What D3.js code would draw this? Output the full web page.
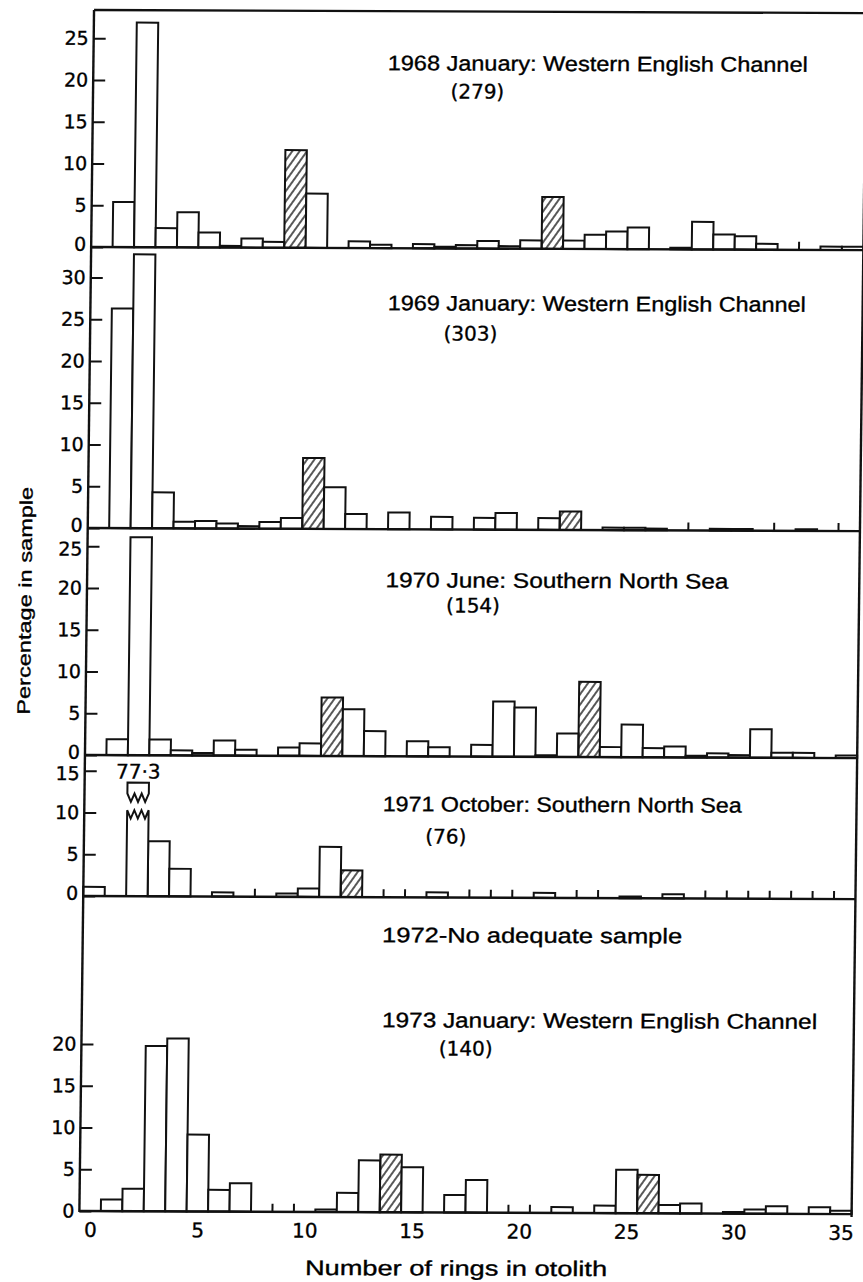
<!DOCTYPE html>
<html>
<head>
<meta charset="utf-8">
<script src="https://cdn.jsdelivr.net/npm/d3@7"></script>
<style>
  body { margin: 0; background: #fff; }
  text { font-family: "Liberation Sans", Arial, sans-serif; fill: #000; stroke: #000; stroke-width: 0.35px; }
</style>
</head>
<body>
<script>
// Number of rings in otolith: one bin per ring count
const rings = d3.range(0, 36);

// Percentage in sample for each ring count
const pct1968 = [0, 5.4, 26.9, 2.3, 4.2, 1.8, 0.2, 1.1, 0.7, 11.7, 6.5, 0, 0.8, 0.4, 0, 0.5, 0.2, 0.4, 0.9, 0.3,
                 1.0, 6.2, 1.0, 1.7, 2.1, 2.6, 0, 0.2, 3.3, 1.8, 1.6, 0.7, 0, 0, 0.4, 0.4];
const pct1969 = [0, 26.3, 32.8, 4.3, 0.8, 0.9, 0.6, 0.3, 0.8, 1.3, 8.5, 5.0, 1.8, 0, 2.0, 0, 1.5, 0, 1.4, 2.0,
                 0, 1.4, 2.2, 0, 0.3, 0.3, 0.2, 0, 0, 0.2, 0.2, 0, 0, 0.2, 0, 0];
const pct1970 = [0, 1.9, 26.1, 1.9, 0.6, 0.3, 1.8, 0.7, 0, 1.0, 1.5, 7.0, 5.6, 3.0, 0, 1.8, 1.1, 0, 1.4, 6.6,
                 5.9, 0.2, 2.8, 9.0, 1.2, 3.9, 1.1, 1.3, 0.2, 0.5, 0.3, 3.4, 0.6, 0.6, 0, 0.3];
const pct1971 = [1.1, 0, 77.3, 6.6, 3.3, 0, 0.5, 0, 0, 0.4, 1.0, 6.0, 3.2, 0, 0, 0, 0.6, 0, 0, 0,
                 0, 0.6, 0, 0, 0, 0.2, 0, 0.5, 0, 0, 0, 0, 0, 0, 0, 0];
const pct1973 = [0, 1.4, 2.7, 19.8, 20.7, 9.2, 2.6, 3.4, 0, 0, 0, 0.3, 2.3, 6.2, 6.9, 5.4, 0, 2.1, 3.9, 0,
                 0, 0, 0.7, 0, 0.9, 5.2, 4.6, 1.0, 1.2, 0, 0.2, 0.5, 0.9, 0, 0.8, 0.4];

// Hatched bars (the strong year classes)
const hatched1968 = [9, 21];
const hatched1969 = [10, 22];
const hatched1970 = [11, 23];
const hatched1971 = [12];
const hatched1973 = [14, 26];

// Texts
const sampleTitles = ["1968 January: Western English Channel", "1969 January: Western English Channel",
                      "1970 June: Southern North Sea", "1971 October: Southern North Sea",
                      "1973 January: Western English Channel"];
const sampleSizes = ["(279)", "(303)", "(154)", "(76)", "(140)"];
const noSampleText = "1972-No adequate sample";

// Tick labels
const yTicks1968 = [0, 5, 10, 15, 20, 25];
const yTicks1969 = [0, 5, 10, 15, 20, 25, 30];
const yTicks1970 = [0, 5, 10, 15, 20, 25];
const yTicks1971 = [0, 5, 10, 15];
const yTicks1973 = [0, 5, 10, 15, 20];
const xTicks = [0, 5, 10, 15, 20, 25, 30, 35];

// Build the panel table
const panels = [
    {values: pct1968, hatched: hatched1968, ticks: yTicks1968},
    {values: pct1969, hatched: hatched1969, ticks: yTicks1969},
    {values: pct1970, hatched: hatched1970, ticks: yTicks1970},
    {values: pct1971, hatched: hatched1971, ticks: yTicks1971},
    {values: pct1973, hatched: hatched1973, ticks: yTicks1973}
];

// ---- layout ----
const outerWidth = 863, outerHeight = 1282;
const left = 86.6, right = 858.8, frameTop = 10;
const baselines = [247, 528, 755, 896, 1211];
const pxPerPct = 8.35;
const tops = [frameTop, ...baselines.slice(0, 4)];
const numFont = "DejaVu Sans, Liberation Sans, sans-serif";

// title placement and sample size placement
const titleLayout = [
    {x: 381, y: 69, w: 420, nx: 444, ny: 97},
    {x: 384, y: 309, w: 418, nx: 440, ny: 339},
    {x: 385, y: 586, w: 343, nx: 446, ny: 611},
    {x: 385, y: 810, w: 359, nx: 428, ny: 842},
    {x: 387, y: 1026, w: 435, nx: 444, ny: 1054}
];

// the scan is slightly skewed
const shear = {b: 0.004, c: -0.0122, px: 86, py: 620};

const outerSvg = d3.select("body").append("svg")
    .attr("width", outerWidth)
    .attr("height", outerHeight)
    .style("background", "#fff");

// hatch pattern
outerSvg.append("defs").append("pattern")
    .attr("id", "hatch")
    .attr("patternUnits", "userSpaceOnUse")
    .attr("width", 6)
    .attr("height", 6)
    .attr("patternTransform", "rotate(35)")
    .append("line")
    .attr("x1", 3).attr("y1", 0).attr("x2", 3).attr("y2", 6)
    .attr("stroke", "#111")
    .attr("stroke-width", 1.4);

const svg = outerSvg.append("g")
    .attr("transform", `matrix(1,${shear.b},${shear.c},1,${-shear.c * shear.py},${-shear.b * shear.px})`);

const x = d3.scaleLinear()
    .domain([-0.5, 35.5])
    .range([left, right]);

panels.forEach((p, i) => {
    const base = baselines[i];
    const top = tops[i];
    const y = d3.scaleLinear()
        .domain([0, (base - top) / pxPerPct])
        .range([base, top]);
    const yMax = y.domain()[1];

    const g = svg.append("g").attr("class", "panel");

    const data = rings.map(k => ({k: k, v: p.values[k], h: p.hatched.includes(k)}));

    // ordinary bars
    g.selectAll(".bar")
        .data(data.filter(d => d.v > 0 && d.v <= yMax))
        .join("rect")
        .attr("class", "bar")
        .attr("x", d => x(d.k - 0.5))
        .attr("width", d => x(d.k + 0.5) - x(d.k - 0.5))
        .attr("y", d => y(d.v))
        .attr("height", d => base - y(d.v))
        .attr("fill", d => d.h ? "url(#hatch)" : "#fff")
        .attr("stroke", "#111")
        .attr("stroke-width", 2);

    // off-scale bar, drawn broken
    data.filter(d => d.v > yMax).forEach(d => {
        const x0 = x(d.k - 0.5), x1 = x(d.k + 0.5);
        const zig = (lo, hi) => d3.range(0, 7).map(j => [x0 + (x1 - x0) * j / 6, y(j % 2 ? lo : hi)]);
        const lower = [[x0, base], ...zig(9.3, 10.3), [x1, base]];
        const upper = [[x0, y(12.3)], [x0, y(13.6)], [x1, y(13.6)], ...zig(11.3, 12.3).reverse()];
        g.append("path")
            .attr("d", d3.line()(lower))
            .attr("fill", "#fff").attr("stroke", "#111").attr("stroke-width", 2);
        g.append("path")
            .attr("d", d3.line()(upper) + "Z")
            .attr("fill", "#fff").attr("stroke", "#111").attr("stroke-width", 2);
        g.append("text")
            .attr("x", x(d.k))
            .attr("y", y(14.1))
            .attr("text-anchor", "middle")
            .style("font-family", numFont)
            .attr("font-size", 20)
            .text(d3.format(".1f")(d.v).replace(".", "·"));
    });

    // little marks on the baseline between empty bins
    const emptyEdges = rings.slice(0, 35).filter(k => p.values[k] === 0 && p.values[k + 1] === 0);
    g.selectAll(".gap")
        .data(emptyEdges)
        .join("line")
        .attr("class", "gap")
        .attr("x1", k => x(k + 0.5)).attr("x2", k => x(k + 0.5))
        .attr("y1", base).attr("y2", base - 8)
        .attr("stroke", "#111")
        .attr("stroke-width", 2);

    // y axis
    g.append("g")
        .attr("transform", `translate(${left},0)`)
        .call(d3.axisLeft(y).tickValues(p.ticks).tickSize(-12).tickPadding(5).tickFormat(d3.format("d")))
        .attr("font-size", 19)
        .call(a => a.select(".domain").remove())
        .call(a => a.selectAll("line").attr("stroke", "#111").attr("stroke-width", 2))
        .call(a => a.selectAll("text").attr("fill", "#000").style("font-family", numFont)
            // labels next to a panel edge are nudged apart, as in the print
            .attr("dy", d => d === 0 && i < 4 ? "0.18em" : (y(d) - top < 20 && i > 0 ? "0.46em" : "0.32em")));

    // baseline
    g.append("line")
        .attr("x1", left).attr("x2", right)
        .attr("y1", base).attr("y2", base)
        .attr("stroke", "#111").attr("stroke-width", 2.4);

    // titles
    const t = titleLayout[i];
    g.append("text")
        .attr("x", t.x).attr("y", t.y)
        .attr("font-size", 21)
        .attr("textLength", t.w)
        .attr("lengthAdjust", "spacingAndGlyphs")
        .text(sampleTitles[i]);
    g.append("text")
        .attr("x", t.nx).attr("y", t.ny)
        .attr("font-size", 20)
        .style("font-family", numFont)
        .text(sampleSizes[i]);
});

// frame: top, left axis, right side
svg.append("line")
    .attr("x1", left).attr("x2", right + 10)
    .attr("y1", frameTop).attr("y2", frameTop)
    .attr("stroke", "#111").attr("stroke-width", 2.4);
svg.append("line")
    .attr("x1", left).attr("x2", left)
    .attr("y1", frameTop).attr("y2", baselines[4] + 1)
    .attr("stroke", "#111").attr("stroke-width", 2.4);
svg.append("line")
    .attr("x1", right).attr("x2", right)
    .attr("y1", frameTop).attr("y2", baselines[4] + 3)
    .attr("stroke", "#111").attr("stroke-width", 2.4);

// 1972 note
svg.append("text")
    .attr("x", 386).attr("y", 941)
    .attr("font-size", 21)
    .attr("textLength", 300)
    .attr("lengthAdjust", "spacingAndGlyphs")
    .text(noSampleText);

// x axis
svg.append("g")
    .attr("transform", `translate(0,${baselines[4]})`)
    .call(d3.axisBottom(x).tickValues(xTicks).tickSize(0).tickPadding(11.5))
    .attr("font-size", 20)
    .call(a => a.select(".domain").remove())
    .call(a => a.selectAll("text").attr("fill", "#000").style("font-family", numFont));

// axis titles
svg.append("text")
    .attr("x", 464).attr("y", 1274)
    .attr("text-anchor", "middle")
    .attr("font-size", 21)
    .attr("textLength", 302)
    .attr("lengthAdjust", "spacingAndGlyphs")
    .text("Number of rings in otolith");

svg.append("text")
    .attr("transform", "translate(31,601) rotate(-90)")
    .attr("text-anchor", "middle")
    .attr("font-size", 18)
    .attr("textLength", 228)
    .attr("lengthAdjust", "spacingAndGlyphs")
    .text("Percentage in sample");
</script>
</body>
</html>
